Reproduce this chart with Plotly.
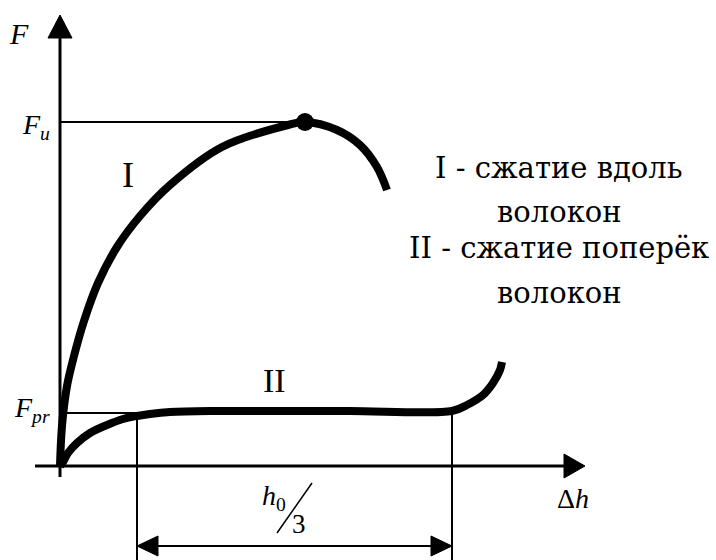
import plotly.graph_objects as go

# Load–deformation curves (Δh, F), arbitrary units
dh_along = [0, 2, 7, 14, 24, 38, 57, 80, 110, 162, 228, 245, 277, 300, 317, 327]
f_along = [0, 40, 80, 110, 145, 183, 219, 250, 281, 319, 341, 344, 336, 321, 299, 276]

dh_across = [0, 3, 8, 17, 30, 47, 63, 77, 90, 110, 150, 190, 290, 392, 407, 423, 433, 440, 442]
f_across = [0, 4, 13, 23, 33, 41, 47, 50, 52, 54, 55, 55, 55, 55, 61, 71, 83, 96, 104]

# Characteristic levels and the h0/3 span
F_pr = 53
span_start, span_end = 77, 392

legend_lines = ["I - сжатие вдоль", "волокон", "II - сжатие поперёк", "волокон"]

i_max = max(range(len(f_along)), key=lambda i: f_along[i])
F_u = f_along[i_max]
dh_u = dh_along[i_max]

SERIF = "Liberation Serif, DejaVu Serif, serif"
LEGEND_FONT = "DejaVu Serif, Liberation Serif, serif"
BLACK = "black"

fig = go.Figure()

# Curve I – compression along the fibres
fig.add_trace(go.Scatter(x=dh_along, y=f_along, mode="lines",
                         line=dict(color=BLACK, width=8, shape="spline", smoothing=1.0),
                         hoverinfo="skip"))
# Curve II – compression across the fibres
fig.add_trace(go.Scatter(x=dh_across, y=f_across, mode="lines",
                         line=dict(color=BLACK, width=8, shape="spline", smoothing=0.9),
                         hoverinfo="skip"))
# Ultimate load point
fig.add_trace(go.Scatter(x=[dh_u], y=[F_u], mode="markers",
                         marker=dict(color=BLACK, size=18), hoverinfo="skip"))

shapes = []
# Axes
shapes.append(dict(type="line", x0=0, y0=-11, x1=0, y1=440, line=dict(color=BLACK, width=3)))
shapes.append(dict(type="line", x0=-25, y0=0, x1=515, y1=0, line=dict(color=BLACK, width=3)))
shapes.append(dict(type="path", path="M 0,451 L -12,428 L 12,428 Z",
                   fillcolor=BLACK, line=dict(color=BLACK, width=1)))
shapes.append(dict(type="path", path="M 525,0 L 504,-12 L 504,12 Z",
                   fillcolor=BLACK, line=dict(color=BLACK, width=1)))
# Reference levels
shapes.append(dict(type="line", x0=0, y0=F_u, x1=dh_u, y1=F_u, line=dict(color=BLACK, width=2)))
shapes.append(dict(type="line", x0=0, y0=F_pr, x1=span_start, y1=F_pr, line=dict(color=BLACK, width=2)))
# Extension lines for the h0/3 span
shapes.append(dict(type="line", x0=span_start, y0=F_pr - 4, x1=span_start, y1=-94, line=dict(color=BLACK, width=2)))
shapes.append(dict(type="line", x0=span_end, y0=F_pr, x1=span_end, y1=-94, line=dict(color=BLACK, width=2)))
# Dimension arrow
shapes.append(dict(type="line", x0=span_start + 10, y0=-80, x1=span_end - 10, y1=-80, line=dict(color=BLACK, width=2)))
shapes.append(dict(type="path",
                   path=f"M {span_start},-80 L {span_start + 21},-70 L {span_start + 21},-90 Z",
                   fillcolor=BLACK, line=dict(color=BLACK, width=1)))
shapes.append(dict(type="path",
                   path=f"M {span_end},-80 L {span_end - 21},-70 L {span_end - 21},-90 Z",
                   fillcolor=BLACK, line=dict(color=BLACK, width=1)))
# Fraction slash of h0/3
shapes.append(dict(type="line", x0=217, y0=-67, x1=252, y1=-17, line=dict(color=BLACK, width=1.5)))

annotations = []


def label(x, y, text, size, family=SERIF, xanchor="center", yanchor="middle"):
    annotations.append(dict(x=x, y=y, text=text, showarrow=False, xanchor=xanchor,
                            yanchor=yanchor, font=dict(family=family, size=size, color=BLACK)))


label(-41, 433, "<i>F</i>", 30)
label(-8, F_u - 4, "<i>F</i><sub><i>u</i></sub>", 28, xanchor="right")
label(-8, F_pr + 4, "<i>F</i><sub><i>pr</i></sub>", 28, xanchor="right")
label(513, -32, "Δ<i>h</i>", 28)
label(214, -31, "<i>h</i><sub>0</sub>", 28)
label(239, -58, "3", 27)
label(68, 291, "I", 36)
label(214, 86, "II", 34)

legend_y = [298, 254, 218, 173]
for txt, yy in zip(legend_lines, legend_y):
    label(499, yy, txt, 29, family=LEGEND_FONT)

fig.update_layout(
    width=716, height=560,
    margin=dict(l=0, r=0, t=0, b=0),
    paper_bgcolor="white", plot_bgcolor="white",
    showlegend=False,
    xaxis=dict(range=[-60, 656], visible=False, fixedrange=True),
    yaxis=dict(range=[-94, 466], visible=False, fixedrange=True),
    shapes=shapes,
    annotations=annotations,
)

fig.write_html("out.html")
